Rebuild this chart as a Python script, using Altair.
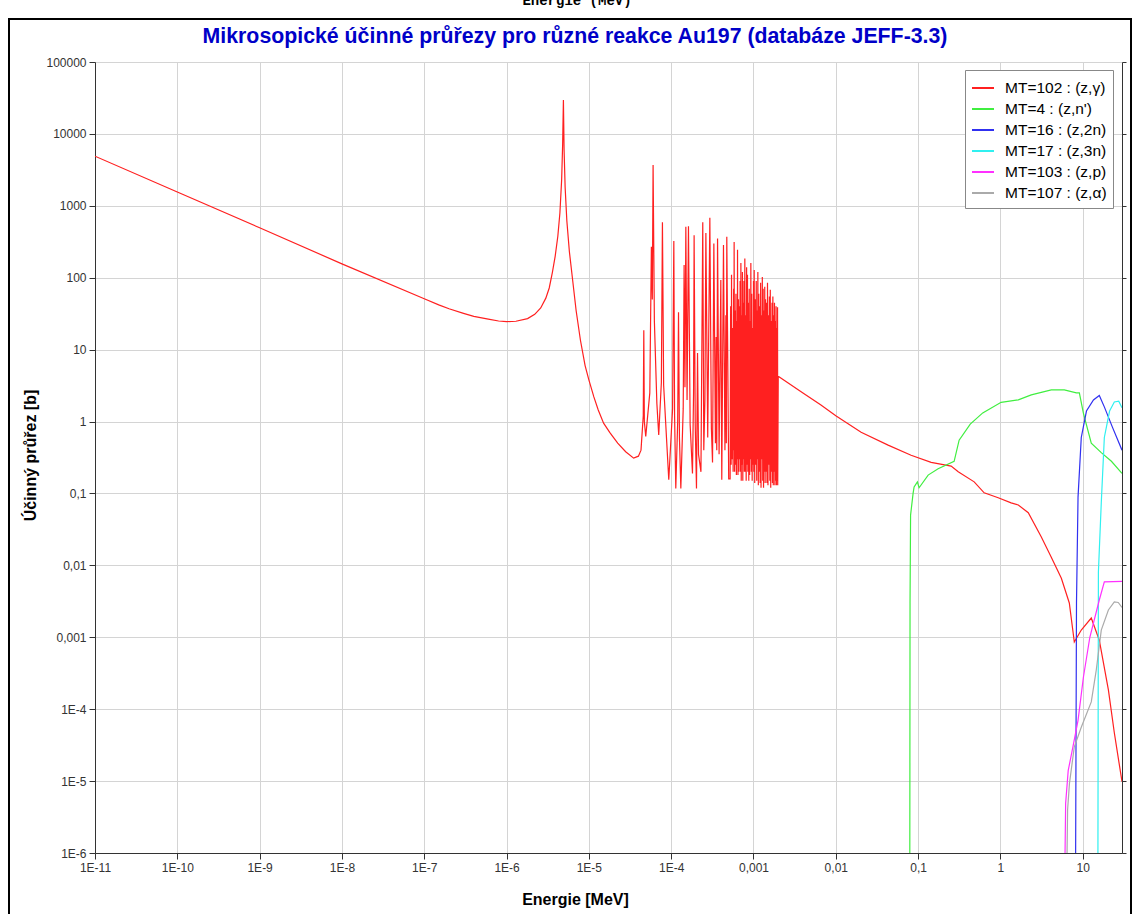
import altair as alt
import pandas as pd

# ---------------- data ----------------
series_labels = ["MT=102 : (z,γ)", "MT=4 : (z,n')", "MT=16 : (z,2n)",
                 "MT=17 : (z,3n)", "MT=103 : (z,p)", "MT=107 : (z,α)"]
series_colors = ["#ff2020", "#40ee40", "#3030f0", "#30f0f0", "#ff30ff", "#aaaaaa"]

# MT=102 (n,gamma): thermal + first resonance region  (energy [MeV], sigma [b])
red_low_E = [1e-11, 1e-10, 1e-9, 1e-8, 1e-7, 1.5e-7, 2e-7, 3e-7, 4e-7, 6e-7,
             8e-7, 1.0e-6, 1.3e-6, 1.8e-6, 2.2e-6, 2.6e-6, 3.0e-6, 3.3e-6, 3.6e-6, 3.9e-6,
             4.2e-6, 4.45e-6, 4.67e-6, 4.8e-6, 4.906e-6, 5.0e-6, 5.15e-6, 5.4e-6, 5.8e-6, 6.35e-6,
             7.0e-6, 7.9e-6, 9e-6, 1.0e-5, 1.15e-5, 1.3e-5, 1.51e-5, 1.8e-5, 2.24e-5, 2.8e-5,
             3.5e-5, 4.0e-5, 4.3e-5]
red_low_s = [4900, 1560, 495, 156, 51, 42, 37, 32, 29, 26.5,
             25, 24.5, 24.8, 27, 31, 38, 52, 72, 118, 200,
             380, 800, 2300, 7000, 29500, 6000, 1800, 620, 230, 93,
             35, 13.5, 6, 3.8, 2.2, 1.45, 0.95, 0.7, 0.5, 0.38,
             0.31, 0.33, 0.4]

# resolved resonances 45 eV - 520 eV
red_res_E = [4.58e-5, 4.65e-5, 4.72e-5, 4.91e-5, 5.5e-5, 5.75e-5, 5.9e-5, 6.03e-5, 6.25e-5, 6.7e-5,
             7.06e-5, 7.6e-5, 7.83e-5, 8.1e-5, 9.35e-5, 1.04e-4, 1.077e-4, 1.10e-4, 1.138e-4, 1.2e-4,
             1.228e-4, 1.26e-4, 1.31e-4, 1.40e-4, 1.436e-4, 1.47e-4, 1.507e-4, 1.56e-4, 1.622e-4, 1.70e-4,
             1.815e-4, 1.87e-4, 1.90e-4, 1.96e-4, 2.03e-4, 2.09e-4, 2.15e-4, 2.30e-4, 2.42e-4, 2.49e-4,
             2.57e-4, 2.64e-4, 2.78e-4, 2.95e-4, 3.08e-4, 3.18e-4, 3.30e-4, 3.45e-4, 3.52e-4, 3.58e-4,
             3.66e-4, 3.82e-4, 4.01e-4, 4.12e-4, 4.32e-4, 4.5e-4, 4.62e-4, 4.68e-4, 4.74e-4, 5.0e-4]
red_res_s = [1.2, 18.6, 1.0, 0.62, 2.5, 270, 50, 3700, 25, 1.8,
             0.65, 3.5, 590, 3.2, 0.155, 1.5, 325, 1.2, 0.117, 1.0,
             33, 0.6, 0.117, 1.5, 150, 3, 510, 2, 520, 0.9,
             0.19, 2.5, 390, 0.9, 0.117, 9, 0.35, 0.2, 590, 0.4,
             2, 420, 0.6, 680, 0.8, 0.27, 300, 0.5, 15, 0.4,
             350, 0.35, 93, 0.155, 285, 0.4, 30, 0.5, 370, 0.16]

# dense resonances 0.52 keV - 2 keV
red_dense_E = [5.20e-4, 5.28e-4, 5.35e-4, 5.41e-4, 5.50e-4, 5.58e-4, 5.66e-4, 5.74e-4, 5.78e-4, 5.82e-4,
               5.90e-4, 5.98e-4, 6.05e-4, 6.12e-4, 6.20e-4, 6.28e-4, 6.34e-4, 6.40e-4, 6.48e-4, 6.57e-4,
               6.64e-4, 6.72e-4, 6.80e-4, 6.88e-4, 6.95e-4, 7.03e-4, 7.10e-4, 7.18e-4, 7.26e-4, 7.34e-4,
               7.42e-4, 7.50e-4, 7.58e-4, 7.66e-4, 7.74e-4, 7.85e-4, 7.95e-4, 8.05e-4, 8.15e-4, 8.25e-4,
               8.35e-4, 8.45e-4, 8.55e-4, 8.66e-4, 8.77e-4, 8.88e-4, 8.98e-4, 9.08e-4, 9.18e-4, 9.29e-4,
               9.40e-4, 9.52e-4, 9.64e-4, 9.76e-4, 9.88e-4, 1.0e-3, 1.01e-3, 1.02e-3, 1.035e-3, 1.05e-3,
               1.065e-3, 1.08e-3, 1.095e-3, 1.11e-3, 1.12e-3, 1.13e-3, 1.145e-3, 1.16e-3, 1.175e-3, 1.19e-3,
               1.205e-3, 1.22e-3, 1.235e-3, 1.25e-3, 1.265e-3, 1.28e-3, 1.295e-3, 1.31e-3, 1.325e-3, 1.34e-3,
               1.355e-3, 1.37e-3, 1.385e-3, 1.40e-3, 1.42e-3, 1.44e-3, 1.46e-3, 1.48e-3, 1.50e-3, 1.52e-3,
               1.54e-3, 1.56e-3, 1.58e-3, 1.60e-3, 1.62e-3, 1.64e-3, 1.66e-3, 1.68e-3, 1.70e-3, 1.72e-3,
               1.74e-3, 1.76e-3, 1.78e-3, 1.80e-3, 1.82e-3, 1.84e-3, 1.86e-3, 1.88e-3, 1.90e-3, 1.92e-3,
               1.94e-3, 1.96e-3, 1.97e-3]
red_dense_s = [0.16, 40, 0.25, 110, 0.3, 20, 0.2, 70, 0.4, 315,
               0.2, 35, 0.25, 60, 0.18, 25, 0.3, 245, 0.18, 50,
               0.2, 40, 0.3, 90, 0.2, 160, 0.15, 30, 0.25, 120,
               0.15, 45, 0.3, 90, 0.2, 185, 0.2, 30, 0.15, 140,
               0.25, 110, 0.2, 45, 0.15, 70, 0.18, 25, 0.3, 160,
               0.2, 60, 0.15, 20, 0.25, 90, 0.2, 128, 0.14, 50,
               0.25, 90, 0.15, 35, 0.3, 120, 0.13, 60, 0.2, 40,
               0.14, 85, 0.12, 30, 0.3, 102, 0.15, 70, 0.12, 35,
               0.2, 75, 0.14, 50, 0.2, 45, 0.14, 85, 0.13, 30,
               0.25, 55, 0.15, 68, 0.12, 25, 0.2, 45, 0.14, 55,
               0.13, 30, 0.2, 45, 0.13, 25, 0.15, 40, 0.13, 20,
               0.15, 39, 0.13]

# smooth (unresolved / fast) region
red_fast_E = [2.0e-3, 2.04e-3, 3.99e-3, 6.6e-3, 0.01, 0.0203, 0.0432, 0.0822, 0.144, 0.252,
              0.307, 0.48, 0.635, 0.94, 1.35, 1.65, 2.18, 3.13, 4.15, 5.5,
              6.87, 7.9, 9.6, 12.7, 15.9, 20.5, 24.2, 30.0]
red_fast_s = [4.3, 4.2, 2.5, 1.7, 1.2, 0.71, 0.47, 0.34, 0.27, 0.24,
              0.20, 0.145, 0.102, 0.087, 0.074, 0.069, 0.054, 0.025, 0.013, 0.0066,
              0.0030, 0.00086, 0.00126, 0.00185, 0.00091, 0.000185, 4.7e-5, 9.8e-6]

# MT=4 (n,n')
green_E = [0.0793, 0.0798, 0.0810, 0.0869, 0.0894, 0.098, 0.1028, 0.1324, 0.175, 0.274,
           0.315, 0.43, 0.61, 1.02, 1.65, 2.37, 4.15, 5.97, 8.36, 9.1,
           10.2, 12.7, 16.8, 22.3, 30.0]
green_s = [1e-6, 0.003, 0.05, 0.1, 0.123, 0.145, 0.12, 0.18, 0.22, 0.28,
           0.55, 0.92, 1.32, 1.85, 2.0, 2.35, 2.75, 2.75, 2.5, 2.5,
           1.3, 0.5, 0.37, 0.28, 0.19]

# MT=16 (n,2n)
blue_E = [8.2, 8.4, 8.77, 9.6, 11.1, 13.5, 15.9, 18.3, 23.0, 30.0]
blue_s = [1e-6, 0.003, 0.089, 0.6, 1.4, 2.0, 2.3, 1.6, 0.83, 0.40]

# MT=17 (n,3n)
cyan_E = [15.3, 15.5, 16.8, 18.3, 21.2, 24.2, 27.4, 30.0]
cyan_s = [1e-6, 0.008, 0.074, 0.6, 1.4, 1.87, 1.92, 1.55]

# MT=103 (n,p)
magenta_E = [6.1, 6.2, 6.66, 7.6, 8.77, 10.2, 12.2, 15.9, 18.3, 30.0]
magenta_s = [1e-6, 4.9e-6, 1.4e-5, 3e-5, 7e-5, 2.8e-4, 1e-3, 3.3e-3, 0.0059, 0.006]

# MT=107 (n,alpha)
gray_E = [6.45, 6.55, 6.9, 7.9, 9.6, 12.7, 14.6, 16.8, 20.5, 24.2, 27.0, 30.0]
gray_s = [1e-6, 4e-6, 9.3e-6, 3e-5, 5.6e-5, 1.26e-4, 3.5e-4, 1.26e-3, 2.4e-3, 3.1e-3, 3.05e-3, 2.6e-3]

x_ticks = [1e-11, 1e-10, 1e-9, 1e-8, 1e-7, 1e-6, 1e-5, 1e-4, 1e-3, 1e-2, 1e-1, 1, 10]
y_ticks = [1e-6, 1e-5, 1e-4, 1e-3, 1e-2, 1e-1, 1, 10, 100, 1000, 10000, 100000]

title_text = "Mikrosopické účinné průřezy pro různé reakce Au197 (databáze JEFF-3.3)"
top_cut_text = "Energie (MeV)"

# ---------------- build table ----------------
red_E = red_low_E + red_res_E + red_dense_E + red_fast_E
red_s = red_low_s + red_res_s + red_dense_s + red_fast_s

rows = []
all_series = [(red_E, red_s), (green_E, green_s), (blue_E, blue_s),
              (cyan_E, cyan_s), (magenta_E, magenta_s), (gray_E, gray_s)]
for lab, (es, ss) in zip(series_labels, all_series):
    for i, (e, s) in enumerate(zip(es, ss)):
        rows.append({"series": lab, "E": e, "s": s, "idx": i})
df = pd.DataFrame(rows)

W, H = 1027, 791
FONT = "Liberation Sans"

label_expr = ("datum.value >= 1 ? format(datum.value, 'd') : "
              "(datum.value >= 0.0009 ? replace(format(datum.value, '.3~f'), '.', ',') : "
              "'1E-' + format(-log(datum.value) / LN10, 'd'))")

axis_style = dict(labelFont=FONT, labelFontSize=12, labelColor="#333333",
                  titleFont=FONT, titleFontSize=16, titleFontWeight="bold", titleColor="black",
                  gridColor="#d4d4d4", gridWidth=1, domainColor="#333333", tickColor="#333333",
                  tickSize=6, labelPadding=3, labelOverlap=False)

xenc = alt.X("E:Q",
             scale=alt.Scale(type="log", domain=[1e-11, 30], nice=False),
             axis=alt.Axis(values=x_ticks, labelExpr=label_expr, title="Energie [MeV]",
                           titleX=480, titleY=46, titleBaseline="middle", titleAlign="center",
                           labelFlush=False, **axis_style))

yscale = alt.Scale(type="log", domain=[1e-6, 1e5], nice=False)

lines = alt.Chart(df).mark_line(strokeWidth=1.2, clip=True).encode(
    x=xenc,
    y=alt.Y("s:Q", scale=yscale,
            axis=alt.Axis(values=y_ticks, labelExpr=label_expr, title="Účinný průřez [b]",
                          titleX=-65, titleY=393, titleAngle=270, titleAlign="center",
                          titleBaseline="middle", **axis_style)),
    color=alt.Color("series:N",
                    scale=alt.Scale(domain=series_labels, range=series_colors),
                    legend=alt.Legend(title=None, orient="none", legendX=870, legendY=8,
                                      symbolType="stroke", symbolStrokeWidth=2,
                                      symbolSize=484, rowPadding=0, labelFontSize=15.5,
                                      labelFont=FONT, labelColor="black", labelOffset=10,
                                      strokeColor="#888888", fillColor="white", padding=6,
                                      labelLimit=220)),
    order=alt.Order("idx:Q"),
)

right_axis = alt.Chart(df).mark_point(opacity=0).encode(
    x=xenc,
    y=alt.Y("s:Q", scale=yscale,
            axis=alt.Axis(orient="right", values=y_ticks, labels=False, title="",
                          grid=False, tickSize=4, domainColor="#333333", tickColor="#333333")),
)

one = pd.DataFrame({"t": [title_text]})
title_layer = alt.Chart(one).mark_text(
    font=FONT, fontSize=21.3, fontWeight="bold", color="#0000c8",
    align="center", baseline="middle").encode(
    text="t:N", x=alt.value(480), y=alt.value(-25))

cut = pd.DataFrame({"t": [top_cut_text]})
cut_layer = alt.Chart(cut).mark_text(
    font="Liberation Mono", fontSize=14, fontWeight="bold", color="black",
    align="center", baseline="alphabetic").encode(
    text="t:N", x=alt.value(482), y=alt.value(-57))

frame_df = pd.DataFrame({"k": [0]})
frame = alt.Chart(frame_df).mark_rect(fillOpacity=0, stroke="black", strokeWidth=2).encode(
    x=alt.value(-86), x2=alt.value(1036), y=alt.value(-43), y2=alt.value(880))

chart = alt.layer(frame, lines, right_axis, title_layer, cut_layer).resolve_axis(
    y="independent"
).properties(
    width=W, height=H,
    background="white",
    autosize=alt.AutoSizeParams(type="none"),
    padding={"left": 95, "top": 62, "right": 17, "bottom": 61},
).configure_view(strokeWidth=0)

chart.save("out.html", embed_options={"renderer": "svg", "actions": False})
